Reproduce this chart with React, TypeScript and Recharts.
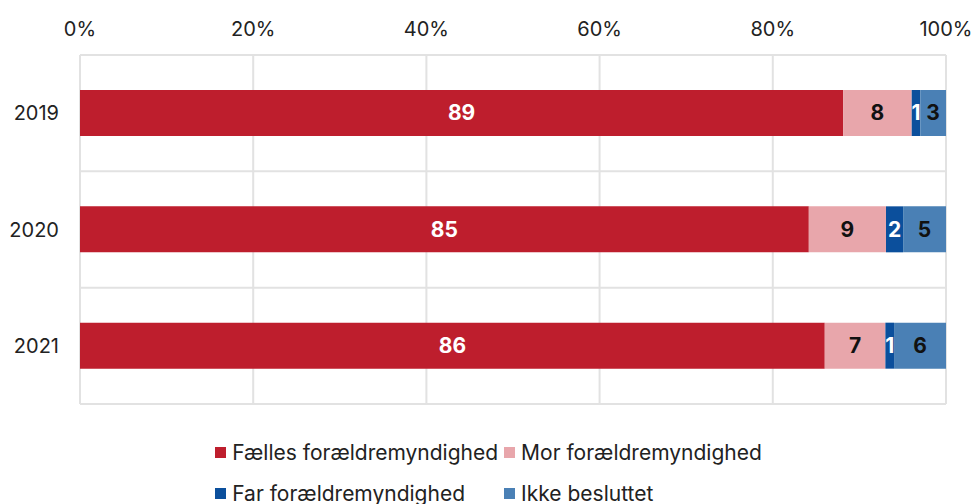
import { BarChart, Bar, XAxis, YAxis, CartesianGrid, LabelList } from 'recharts'

const years = ['2019', '2020', '2021']
const faelles = [89, 85, 86]
const mor = [8, 9, 7]
const far = [1, 2, 1]
const ikke = [3, 5, 6]
const xTicks = [0, 0.2, 0.4, 0.6, 0.8, 1]

const series = [
  { key: 'faelles', name: 'Fælles forældremyndighed', color: '#be1e2d', label: '#ffffff' },
  { key: 'mor', name: 'Mor forældremyndighed', color: '#e8a6ab', label: '#111111' },
  { key: 'far', name: 'Far forældremyndighed', color: '#0b4f9c', label: '#ffffff' },
  { key: 'ikke', name: 'Ikke besluttet', color: '#4a80b5', label: '#111111' },
]

const data = years.map((year, i) => ({
  year,
  faelles: faelles[i],
  mor: mor[i],
  far: far[i],
  ikke: ikke[i],
}))

const font = 'Inter, "Noto Sans", sans-serif'

export default function App() {
  return (
    <div style={{ position: 'absolute', left: 0, top: 0, width: 977, fontFamily: font }}>
      <BarChart
        width={977}
        height={420}
        data={data}
        layout="vertical"
        stackOffset="expand"
        margin={{ top: 25, right: 31, left: 0, bottom: 16 }}
      >
        <CartesianGrid
          stroke="#e2e2e2"
          strokeWidth={2}
          horizontalCoordinatesGenerator={({ offset }: any) =>
            [0, 1, 2, 3].map((i) => offset.top + (i * offset.height) / years.length)
          }
        />
        <XAxis
          type="number"
          orientation="top"
          domain={[0, 1]}
          ticks={xTicks}
          tickFormatter={(v: number) => `${Math.round(v * 100)}%`}
          axisLine={false}
          tickLine={false}
          tickSize={0}
          tickMargin={19}
          height={30}
          tick={{ fontSize: 20, fill: '#222', fontFamily: font }}
        />
        <YAxis
          type="category"
          dataKey="year"
          width={80}
          axisLine={false}
          tickLine={false}
          tickSize={0}
          tickMargin={21}
          tick={{ fontSize: 20, fill: '#222', fontFamily: font }}
        />
        {series.map((s) => (
          <Bar
            key={s.key}
            dataKey={s.key}
            name={s.name}
            stackId="a"
            fill={s.color}
            barSize={46}
            isAnimationActive={false}
          >
            <LabelList
              dataKey={s.key}
              position="center"
              fill={s.label}
              style={{ fontSize: 21, fontWeight: 700, fontFamily: font }}
            />
          </Bar>
        ))}
      </BarChart>
      <div
        style={{
          display: 'grid',
          gridTemplateColumns: 'auto auto',
          justifyContent: 'center',
          columnGap: 6,
          rowGap: 18,
          marginTop: 21,
          fontSize: 21,
          color: '#222',
          lineHeight: '23px',
        }}
      >
        {series.map((s) => (
          <div key={s.key} style={{ display: 'flex', alignItems: 'center' }}>
            <span
              style={{ display: 'inline-block', width: 11, height: 11, background: s.color, marginRight: 6 }}
            />
            <span>{s.name}</span>
          </div>
        ))}
      </div>
    </div>
  )
}
